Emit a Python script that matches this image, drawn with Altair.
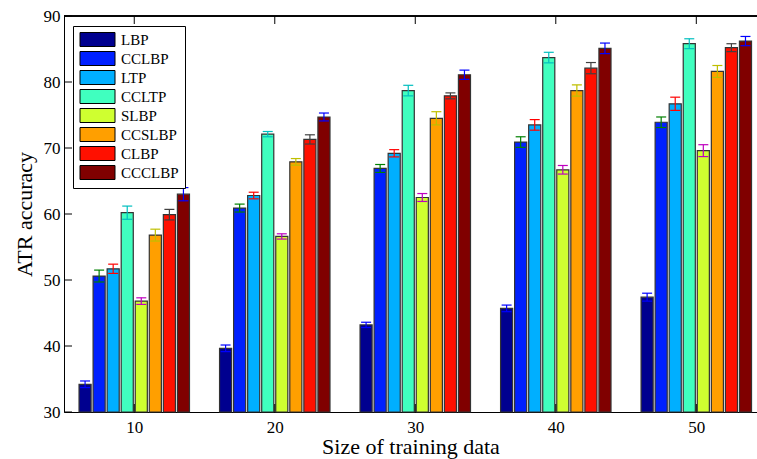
import altair as alt
import pandas as pd

sizes = [10, 20, 30, 40, 50]
methods = ["LBP", "CCLBP", "LTP", "CCLTP", "SLBP", "CCSLBP", "CLBP", "CCCLBP"]
bar_colors = ["#00008f", "#0020ff", "#00afff", "#40ffbf", "#cfff30", "#ff9f00", "#ff1000", "#800000"]
err_colors = ["#0000ff", "#008000", "#ff0000", "#00bfbf", "#bf00bf", "#bfbf00", "#404040", "#0000ff"]

acc = {
    "LBP":    [34.2, 39.65, 43.2, 45.7, 47.4],
    "CCLBP":  [50.6, 60.9, 66.9, 70.9, 73.9],
    "LTP":    [51.7, 62.8, 69.2, 73.5, 76.7],
    "CCLTP":  [60.2, 72.1, 78.7, 83.7, 85.8],
    "SLBP":   [46.8, 56.6, 62.5, 66.7, 69.6],
    "CCSLBP": [56.8, 67.9, 74.5, 78.7, 81.6],
    "CLBP":   [59.9, 71.3, 77.9, 82.1, 85.2],
    "CCCLBP": [63.0, 74.7, 81.1, 85.1, 86.2],
}
err = {
    "LBP":    [0.5, 0.5, 0.4, 0.5, 0.6],
    "CCLBP":  [0.9, 0.6, 0.6, 0.8, 0.8],
    "LTP":    [0.7, 0.5, 0.55, 0.8, 1.0],
    "CCLTP":  [1.0, 0.4, 0.8, 0.8, 0.75],
    "SLBP":   [0.5, 0.4, 0.6, 0.65, 0.9],
    "CCSLBP": [0.9, 0.5, 1.0, 0.85, 0.9],
    "CLBP":   [0.8, 0.7, 0.45, 0.85, 0.6],
    "CCCLBP": [1.0, 0.6, 0.7, 0.8, 0.7],
}
y_ticks = [30, 40, 50, 60, 70, 80, 90]

rows = []
for i, m in enumerate(methods):
    for j, s in enumerate(sizes):
        rows.append({"size": s, "method": m, "idx": i, "acc": acc[m][j],
                     "err": err[m][j], "ecolor": err_colors[i]})
df = pd.DataFrame(rows)

W, H = 693, 396
FONT = "Liberation Serif"

xscale = alt.Scale(domain=[5, 54.32], nice=False, zero=False)
yscale = alt.Scale(domain=[30, 90], nice=False, zero=False)
xaxis = alt.Axis(values=sizes, ticks=False, grid=False, domainColor="black",
                 labelFont=FONT, labelFontSize=17, labelColor="black", labelPadding=7,
                 title="Size of training data", titleFont=FONT, titleFontSize=22,
                 titleFontWeight="normal", titleColor="black", titlePadding=1)
yaxis = alt.Axis(values=y_ticks, ticks=False, grid=False, domainColor="black",
                 labelFont=FONT, labelFontSize=17, labelColor="black", labelPadding=4,
                 title="ATR accuracy", titleFont=FONT, titleFontSize=22,
                 titleFontWeight="normal", titleColor="black", titlePadding=7)

base = alt.Chart(df).transform_calculate(
    xc="datum.size + (datum.idx - 3.5) * 1.0",
    x0="datum.size + (datum.idx - 3.5) * 1.0 - 0.43",
    x1="datum.size + (datum.idx - 3.5) * 1.0 + 0.43",
    lo="datum.acc - datum.err",
    hi="datum.acc + datum.err",
)

bars = base.mark_bar(stroke="#333333", strokeWidth=1.2, opacity=1).encode(
    x=alt.X("x0:Q", scale=xscale, axis=xaxis),
    x2="x1:Q",
    y=alt.Y("acc:Q", scale=yscale, axis=yaxis),
    y2=alt.datum(30),
    color=alt.Color("method:N", sort=methods,
                    scale=alt.Scale(domain=methods, range=bar_colors),
                    legend=alt.Legend(orient="none", legendX=9, legendY=10, title=None,
                                      symbolType="M-2.5,-1L2.5,-1L2.5,1L-2.5,1Z",
                                      symbolSize=196, symbolStrokeColor="black",
                                      symbolStrokeWidth=1, symbolOpacity=1,
                                      symbolOffset=11, labelOffset=16,
                                      labelFont=FONT, labelFontSize=15,
                                      labelColor="black", strokeColor="black",
                                      fillColor="white", padding=6, rowPadding=0,
                                      cornerRadius=0)),
)

ebar = base.mark_rule(strokeWidth=1.2, opacity=1).encode(
    x=alt.X("xc:Q", scale=xscale, axis=xaxis),
    y=alt.Y("lo:Q", scale=yscale, axis=yaxis),
    y2="hi:Q",
    color=alt.Color("ecolor:N", scale=None),
)
cap_hi = base.mark_tick(orient="horizontal", size=10, thickness=1.2, opacity=1).encode(
    x=alt.X("xc:Q", scale=xscale, axis=xaxis),
    y=alt.Y("hi:Q", scale=yscale, axis=yaxis),
    color=alt.Color("ecolor:N", scale=None),
)
cap_lo = base.mark_tick(orient="horizontal", size=10, thickness=1.2, opacity=1).encode(
    x=alt.X("xc:Q", scale=xscale, axis=xaxis),
    y=alt.Y("lo:Q", scale=yscale, axis=yaxis),
    color=alt.Color("ecolor:N", scale=None),
)

xt = pd.DataFrame({"v": sizes})
yt = pd.DataFrame({"v": y_ticks})
xt_bottom = alt.Chart(xt).mark_rule(color="black", strokeWidth=1).encode(
    x=alt.X("v:Q", scale=xscale, axis=xaxis), y=alt.value(H), y2=alt.value(H - 8))
xt_top = alt.Chart(xt).mark_rule(color="black", strokeWidth=1).encode(
    x=alt.X("v:Q", scale=xscale, axis=xaxis), y=alt.value(0), y2=alt.value(8))
yt_left = alt.Chart(yt).mark_rule(color="black", strokeWidth=1).encode(
    y=alt.Y("v:Q", scale=yscale, axis=yaxis), x=alt.value(0), x2=alt.value(8))
top_border = alt.Chart(xt).mark_rule(color="black", strokeWidth=1).encode(
    x=alt.value(0), x2=alt.value(W), y=alt.value(0))

chart = alt.layer(bars, ebar, cap_hi, cap_lo, xt_bottom, xt_top, yt_left, top_border).properties(
    width=W, height=H,
    autosize=alt.AutoSizeParams(type="none"),
    padding={"left": 64, "top": 16, "right": 0, "bottom": 47},
).configure_view(stroke=None).configure(background="white")

chart.save("out.html", embed_options={"renderer": "svg", "actions": False})
